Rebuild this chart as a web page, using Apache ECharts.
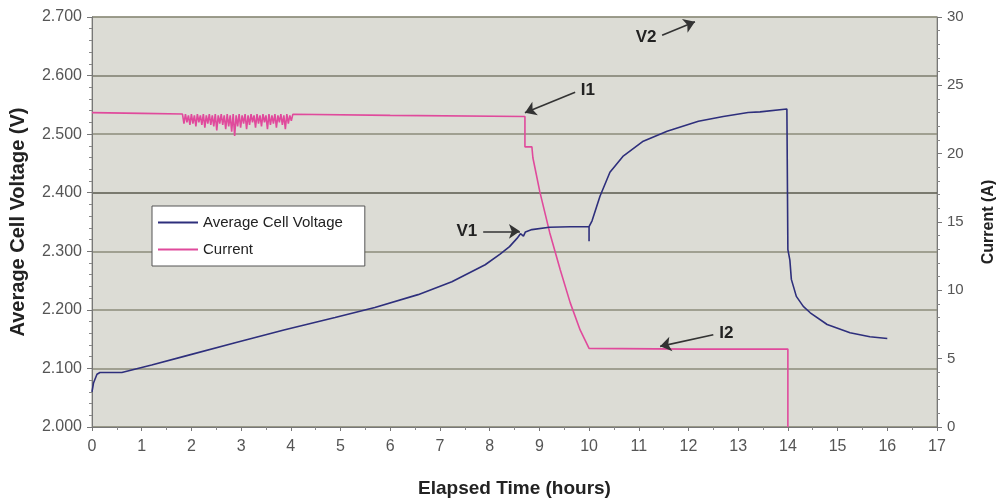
<!DOCTYPE html>
<html>
<head>
<meta charset="utf-8">
<script src="https://cdn.jsdelivr.net/npm/echarts@6/dist/echarts.min.js"></script>
<style>
html,body{margin:0;padding:0;background:#fff;}
#chart{width:1007px;height:500px;}
</style>
</head>
<body>
<div id="chart"></div>
<script>
// ---- data ----
const voltTime = [0, 0.03, 0.1, 0.16, 0.6, 1.2, 1.87, 2.88, 3.88, 4.89, 5.69, 6.56, 7.24, 7.91, 8.21, 8.4, 8.55, 8.62, 8.68, 8.72, 8.85, 9.2, 9.62, 10.0, 10.0, 10.0, 10.06, 10.22, 10.42, 10.68, 11.09, 11.57, 12.2, 12.7, 13.2, 13.44, 13.98, 14.0, 14.0, 14.04, 14.07, 14.17, 14.31, 14.45, 14.79, 15.25, 15.65, 16.0];
const voltage  = [2.060, 2.075, 2.090, 2.093, 2.093, 2.106, 2.121, 2.144, 2.166, 2.187, 2.204, 2.226, 2.248, 2.277, 2.295, 2.308, 2.322, 2.330, 2.326, 2.333, 2.337, 2.341, 2.342, 2.342, 2.317, 2.342, 2.352, 2.394, 2.435, 2.462, 2.488, 2.505, 2.522, 2.530, 2.537, 2.538, 2.543, 2.543, 2.303, 2.285, 2.252, 2.223, 2.206, 2.195, 2.175, 2.161, 2.154, 2.151];

const currTime = [0, 1.0, 1.82,
  1.85, 1.88, 1.91, 1.94, 1.97, 2.00, 2.03, 2.06, 2.09, 2.12, 2.15, 2.18, 2.21, 2.24, 2.27, 2.30,
  2.33, 2.36, 2.39, 2.42, 2.45, 2.48, 2.51, 2.54, 2.57, 2.60, 2.63, 2.66, 2.69, 2.72, 2.75, 2.78,
  2.81, 2.84, 2.87, 2.90, 2.93, 2.96, 2.99, 3.02, 3.05, 3.08, 3.11, 3.14, 3.17, 3.20, 3.23, 3.26,
  3.29, 3.32, 3.35, 3.38, 3.41, 3.44, 3.47, 3.50, 3.53, 3.56, 3.59, 3.62, 3.65, 3.68, 3.71, 3.74,
  3.77, 3.80, 3.83, 3.86, 3.89, 3.92, 3.95, 3.98, 4.01, 4.04,
  6.0, 8.71, 8.71, 8.85, 8.87, 9.01, 9.21, 9.42, 9.62, 9.82, 10.0, 12.0, 14.0, 14.0];
const current  = [23.0, 22.95, 22.9,
  22.2, 22.9, 22.3, 22.8, 22.1, 22.9, 22.2, 22.8, 22.0, 22.9, 22.3, 22.8, 22.1, 22.9, 21.9, 22.8,
  22.2, 22.9, 22.1, 22.8, 22.0, 22.9, 21.7, 22.8, 22.2, 22.9, 22.1, 22.8, 21.8, 22.9, 22.0, 22.8,
  21.6, 22.9, 21.3, 22.8, 22.0, 22.9, 21.9, 22.8, 22.2, 22.9, 21.8, 22.8, 22.1, 22.9, 22.3, 22.8,
  21.9, 22.9, 22.2, 22.8, 22.0, 22.9, 22.3, 22.8, 21.8, 22.9, 22.1, 22.8, 22.2, 22.9, 21.9, 22.8,
  22.3, 22.9, 22.1, 22.8, 21.8, 22.9, 22.2, 22.8, 22.4, 22.88,
  22.8, 22.72, 20.5, 20.5, 19.7, 17.2, 14.2, 11.5, 9.1, 7.1, 5.75, 5.7, 5.7, 0];

const seriesNames = ['Average Cell Voltage', 'Current'];
const annotations = [
  {label: 'V2', axis: 0, from: [11.47, 2.669], to: [12.13, 2.692]},
  {label: 'V1', axis: 0, from: [7.87, 2.334], to: [8.61, 2.334]},
  {label: 'I1', axis: 1, from: [9.72, 24.5], to: [8.71, 23.0]},
  {label: 'I2', axis: 1, from: [12.5, 6.75], to: [11.43, 5.9]}
];

// ---- build chart ----
const zip = (a, b) => a.map((t, i) => [t, b[i]]);
const arrowsFor = axis => annotations.filter(a => a.axis === axis)
  .map(a => [{coord: a.from, name: a.label}, {coord: a.to}]);

const FONT = 'Liberation Sans, Arial, sans-serif';
const markLineStyle = data => ({
  silent: true,
  animation: false,
  symbol: ['none', 'arrow'],
  symbolSize: 11,
  lineStyle: {color: '#333', width: 1.6, type: 'solid'},
  label: {show: true, position: 'start', formatter: p => p.name, fontFamily: FONT,
          fontSize: 17, fontWeight: 'bold', color: '#222', distance: 6},
  emphasis: {disabled: true},
  data: data
});

const chart = echarts.init(document.getElementById('chart'), null, {renderer: 'canvas'});
chart.setOption({
  animation: false,
  backgroundColor: '#ffffff',
  textStyle: {fontFamily: FONT},
  grid: {left: 92, right: 70, top: 17, bottom: 73, show: true,
         outerBoundsMode: 'none', containLabel: false,
         backgroundColor: '#dcdcd5', borderColor: '#9a9a90', borderWidth: 1},
  legend: {
    data: seriesNames,
    orient: 'vertical', left: 152, top: 206,
    backgroundColor: '#ffffff', borderColor: '#555', borderWidth: 1,
    padding: [9, 22, 9, 5], itemWidth: 40, itemHeight: 12, itemGap: 12,
    itemStyle: {opacity: 0},
    textStyle: {fontSize: 15, color: '#222', fontFamily: FONT},
    selectedMode: false
  },
  xAxis: {
    type: 'value', min: 0, max: 17, interval: 1,
    name: 'Elapsed Time (hours)', nameLocation: 'middle', nameGap: 52,
    nameTextStyle: {fontSize: 19, fontWeight: 'bold', color: '#222', fontFamily: FONT},
    axisLine: {show: true, lineStyle: {color: '#777', width: 1}},
    axisTick: {show: true, length: 4, lineStyle: {color: '#777'}},
    minorTick: {show: true, splitNumber: 2, length: 3, lineStyle: {color: '#888'}},
    axisLabel: {fontSize: 16, color: '#555', margin: 12, fontFamily: FONT},
    splitLine: {show: false}
  },
  yAxis: [{
    type: 'value', min: 2.0, max: 2.7, interval: 0.1, position: 'left',
    name: 'Average Cell Voltage (V)', nameLocation: 'middle', nameGap: 64,
    nameTextStyle: {fontSize: 20, fontWeight: 'bold', color: '#222', fontFamily: FONT},
    axisLine: {show: true, lineStyle: {color: '#777', width: 1}},
    axisTick: {show: true, length: 5, lineStyle: {color: '#777'}},
    minorTick: {show: true, splitNumber: 5, length: 3, lineStyle: {color: '#888'}},
    axisLabel: {fontSize: 16, color: '#555', margin: 10, fontFamily: FONT,
                formatter: v => v.toFixed(3)},
    splitLine: {show: true, lineStyle: {width: 1.5,
      color: ['#8c8c7a', '#8c8c7a', '#8c8c7a', '#8c8c7a', '#5a5a4c', '#8c8c7a', '#7c7c6c', '#8c8c7a']}}
  }, {
    type: 'value', min: 0, max: 30, interval: 5, position: 'right',
    name: 'Current (A)', nameLocation: 'middle', nameGap: 44,
    nameTextStyle: {fontSize: 16, fontWeight: 'bold', color: '#222', fontFamily: FONT},
    axisLine: {show: true, lineStyle: {color: '#777', width: 1}},
    axisTick: {show: true, length: 5, lineStyle: {color: '#777'}},
    minorTick: {show: true, splitNumber: 5, length: 3, lineStyle: {color: '#888'}},
    axisLabel: {fontSize: 15, color: '#555', margin: 10, fontFamily: FONT},
    splitLine: {show: false}
  }],
  series: [{
    name: seriesNames[0], type: 'line', yAxisIndex: 0,
    data: zip(voltTime, voltage), showSymbol: false, symbol: 'none',
    lineStyle: {color: '#2e2f7c', width: 1.6}, itemStyle: {color: '#2e2f7c'},
    z: 3,
    markLine: markLineStyle(arrowsFor(0))
  }, {
    name: seriesNames[1], type: 'line', yAxisIndex: 1,
    data: zip(currTime, current), showSymbol: false, symbol: 'none',
    lineStyle: {color: '#e04a9c', width: 1.6}, itemStyle: {color: '#e04a9c'},
    z: 2,
    markLine: markLineStyle(arrowsFor(1))
  }]
});
</script>
</body>
</html>
